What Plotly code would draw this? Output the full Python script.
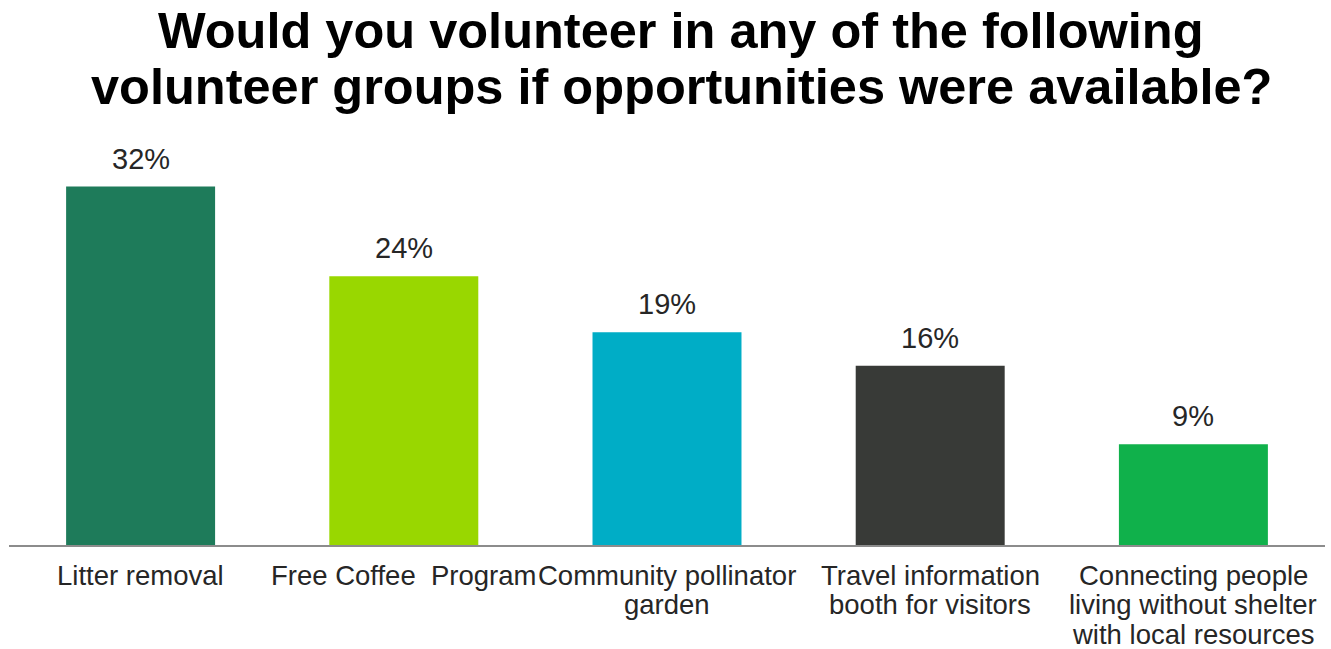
import plotly.graph_objects as go

categories = [
    "Litter removal",
    "Free Coffee  Program",
    "Community pollinator<br>garden",
    "Travel information<br>booth for visitors",
    "Connecting people<br>living without shelter<br>with local resources",
]
values = [32, 24, 19, 16, 9]
bar_colors = ["#1E7B5A", "#99D700", "#00ADC6", "#383A37", "#10B14B"]

title_lines = [
    "Would you volunteer in any of the following",
    "volunteer groups if opportunities were available?",
]

FONT = "Liberation Sans, Arial, sans-serif"
TEXT = "#262626"

W, H = 1331, 649
M_L, M_R, M_T, M_B = 9, 6, 153, 104
plot_w = W - M_L - M_R
plot_h = H - M_T - M_B


def paper_y(px):
    return (H - M_B - px) / plot_h


def paper_x(px):
    return (px - M_L) / plot_w


fig = go.Figure(
    go.Bar(
        x=categories,
        y=values,
        marker=dict(color=bar_colors, line=dict(width=0)),
        width=0.566,
        hoverinfo="skip",
    )
)

# value labels above each bar
for cat, v in zip(categories, values):
    fig.add_annotation(
        x=cat, y=v, text=f"{v}%", showarrow=False,
        xref="x", yref="y", yanchor="bottom", yshift=10,
        font=dict(family=FONT, size=29, color=TEXT),
    )

# category labels under the axis, one annotation per line for tight leading
for cat in categories:
    for j, part in enumerate(cat.split("<br>")):
        fig.add_annotation(
            x=cat, xref="x", y=paper_y(575 + 29.5 * j), yref="paper",
            yanchor="middle", text=part, showarrow=False,
            font=dict(family=FONT, size=27.5, color=TEXT),
        )

# two-line bold title
for line, py in zip(title_lines, [30, 86]):
    fig.add_annotation(
        x=paper_x(681), xref="paper", xanchor="center",
        y=paper_y(py), yref="paper", yanchor="middle",
        text=f"<b>{line}</b>", showarrow=False,
        font=dict(family=FONT, size=50.5, color="#000000"),
    )

fig.update_layout(
    width=W, height=H,
    margin=dict(l=M_L, r=M_R, t=M_T, b=M_B, pad=0, autoexpand=False),
    paper_bgcolor="white", plot_bgcolor="white",
    showlegend=False,
    font=dict(family=FONT, color=TEXT),
)
fig.update_xaxes(
    showline=True, linecolor="#8C8C8C", linewidth=1.5,
    showgrid=False, ticks="", showticklabels=False, automargin=False,
    fixedrange=True,
)
fig.update_yaxes(
    range=[0, 35], visible=False, showgrid=False, zeroline=False,
    automargin=False, fixedrange=True,
)

fig.write_html("out.html")
